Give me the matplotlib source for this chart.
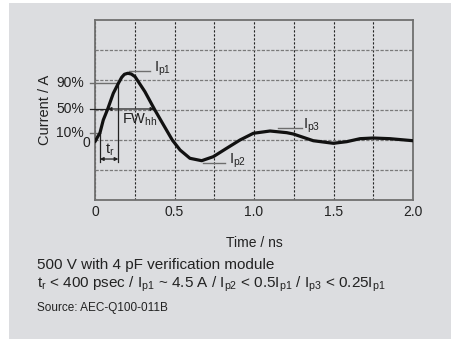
import numpy as np
import matplotlib
matplotlib.use("Agg")
import matplotlib.pyplot as plt
from matplotlib.patches import Rectangle

plt.rcParams['font.family'] = ['Liberation Sans', 'DejaVu Sans']
plt.rcParams['mathtext.fontset'] = 'custom'
plt.rcParams['mathtext.rm'] = 'Liberation Sans'
plt.rcParams['mathtext.it'] = 'Liberation Sans:italic'

# discharge current waveform (current relative to Ip1)
t_ns = [0.000, 0.017, 0.031, 0.052, 0.080, 0.115, 0.147, 0.168, 0.185, 0.206,
        0.228, 0.252, 0.314, 0.373, 0.419, 0.486, 0.535, 0.597, 0.671, 0.744,
        0.828, 0.912, 0.996, 1.101, 1.206, 1.247, 1.373, 1.499, 1.583, 1.667,
        1.750, 1.855, 2.000]
i_rel = [-0.028, 0.055, 0.117, 0.333, 0.517, 0.778, 0.945, 1.045, 1.095, 1.112,
         1.100, 1.055, 0.805, 0.517, 0.305, 0.000, -0.167, -0.305, -0.345, -0.278,
         -0.138, 0.000, 0.112, 0.150, 0.122, 0.100, -0.012, -0.055, -0.028, 0.022,
         0.033, 0.022, -0.012]

x_ticks = [0, 0.5, 1.0, 1.5, 2.0]
x_ticklabels = ['0', '0.5', '1.0', '1.5', '2.0']
level_labels = ['0', '10%', '50%', '90%']
level_pos = [-0.05, 0.117, 0.517, 0.945]

# crossing times of the levels (rising 10 %, rising 90 %, rising / falling 50 %)
t10, t90 = 0.031, 0.147
t50r, t50f = 0.080, 0.373

fig = plt.figure(figsize=(4.51, 3.39), dpi=100, facecolor='white')
bg = '#dcdde0'
fig.patches.append(Rectangle((9 / 451, 0), 1, 1 - 3 / 339, transform=fig.transFigure,
                             facecolor=bg, edgecolor='none', zorder=-10))

ax = fig.add_axes([95 / 451, 1 - 200 / 339, 318 / 451, 180 / 339])
ax.set_facecolor(bg)
ax.set_xlim(0, 2.0)
ax.set_ylim(-1.0, 2.0)

ink = '#222222'
ax.set_xticks(x_ticks)
ax.set_xticklabels(x_ticklabels)
ax.set_xticks(np.arange(0.25, 2.0, 0.5), minor=True)
ax.set_yticks(np.arange(-0.5, 2.0, 0.5))
ax.tick_params(axis='x', which='both', length=0, pad=3.5, labelsize=10, labelcolor=ink)
ax.tick_params(axis='y', length=0, labelleft=False)
ax.grid(axis='x', which='both', color=ink, linestyle=(0, (2, 1.6)), lw=0.8)
ax.grid(axis='y', color='#7a7a7a', linestyle=(0, (2.6, 1.2)), lw=0.9)
for s in ax.spines.values():
    s.set_color('#707070')
    s.set_linewidth(1.3)

ax.plot(t_ns, i_rel, color='#111111', lw=2.3, solid_joinstyle='round',
        solid_capstyle='round', zorder=5)

ax.set_xlabel('Time / ns', fontsize=10, color=ink, labelpad=12)
ax.set_ylabel('Current / A', fontsize=10.5, color=ink, labelpad=31)

# level labels on the left
for lab, v in zip(level_labels, level_pos):
    xl = -0.031 if lab == '0' else -0.069
    ax.text(xl, v, lab, ha='right', va='center', fontsize=10, color=ink,
            clip_on=False)

gray = '#6e6e6e'
x0 = -0.031
ax.plot([x0, t10], [level_pos[1], level_pos[1]], color=gray, lw=1.0, clip_on=False, zorder=4)
ax.plot([x0, t90], [level_pos[3], level_pos[3]], color=gray, lw=1.0, clip_on=False, zorder=4)
ax.plot([x0, t50r], [level_pos[2], level_pos[2]], color=ink, lw=0.9, clip_on=False, zorder=4)
ax.annotate('', xy=(t50f, level_pos[2]), xytext=(t50r, level_pos[2]),
            arrowprops=dict(arrowstyle='<|-|>', color=ink, lw=0.9,
                            mutation_scale=5, shrinkA=0, shrinkB=0), zorder=4)

# rise time
ax.plot([t10, t10], [level_pos[1], -0.362], color=ink, lw=0.9, zorder=4)
ax.plot([t90, t90], [level_pos[3], -0.362], color=ink, lw=0.9, zorder=4)
ax.annotate('', xy=(t90, -0.317), xytext=(t10, -0.317),
            arrowprops=dict(arrowstyle='<|-|>', color=ink, lw=0.9,
                            mutation_scale=5, shrinkA=0, shrinkB=0), zorder=4)
ax.text(0.062, -0.16, r'$\mathrm{t_r}$', fontsize=10.5, ha='left', va='center', color=ink)
ax.text(0.168, 0.333, r'$\mathrm{FW_{hh}}$', fontsize=10.5, ha='left', va='center', color=ink)

# peak labels
peaks = [(0.214, 0.346, 1.155, 0.371, r'$\mathrm{I_{p1}}$'),
         (0.681, 0.818, -0.378, 0.843, r'$\mathrm{I_{p2}}$'),
         (1.153, 1.300, 0.205, 1.310, r'$\mathrm{I_{p3}}$')]
for xa, xb, yv, xt, lab in peaks:
    ax.plot([xa, xb], [yv, yv], color=gray, lw=1.0, zorder=4)
    ax.text(xt, yv + 0.03, lab, fontsize=10.5, ha='left', va='center', color=ink)

fig.text(37 / 451, 1 - 265 / 339, '500 V with 4 pF verification module',
         fontsize=11, ha='left', va='center', color=ink)
fig.text(37 / 451, 1 - 284 / 339,
         r'$\mathrm{t_r}$ < 400 psec / $\mathrm{I_{p1}}$ ~ 4.5 A / $\mathrm{I_{p2}}$ < 0.5$\mathrm{I_{p1}}$'
         r' / $\mathrm{I_{p3}}$ < 0.25$\mathrm{I_{p1}}$',
         fontsize=11, ha='left', va='center', color=ink)
fig.text(37 / 451, 1 - 308 / 339, 'Source: AEC-Q100-011B',
         fontsize=8.5, ha='left', va='center', color=ink)

fig.savefig('out.png', dpi=100, facecolor=fig.get_facecolor())
